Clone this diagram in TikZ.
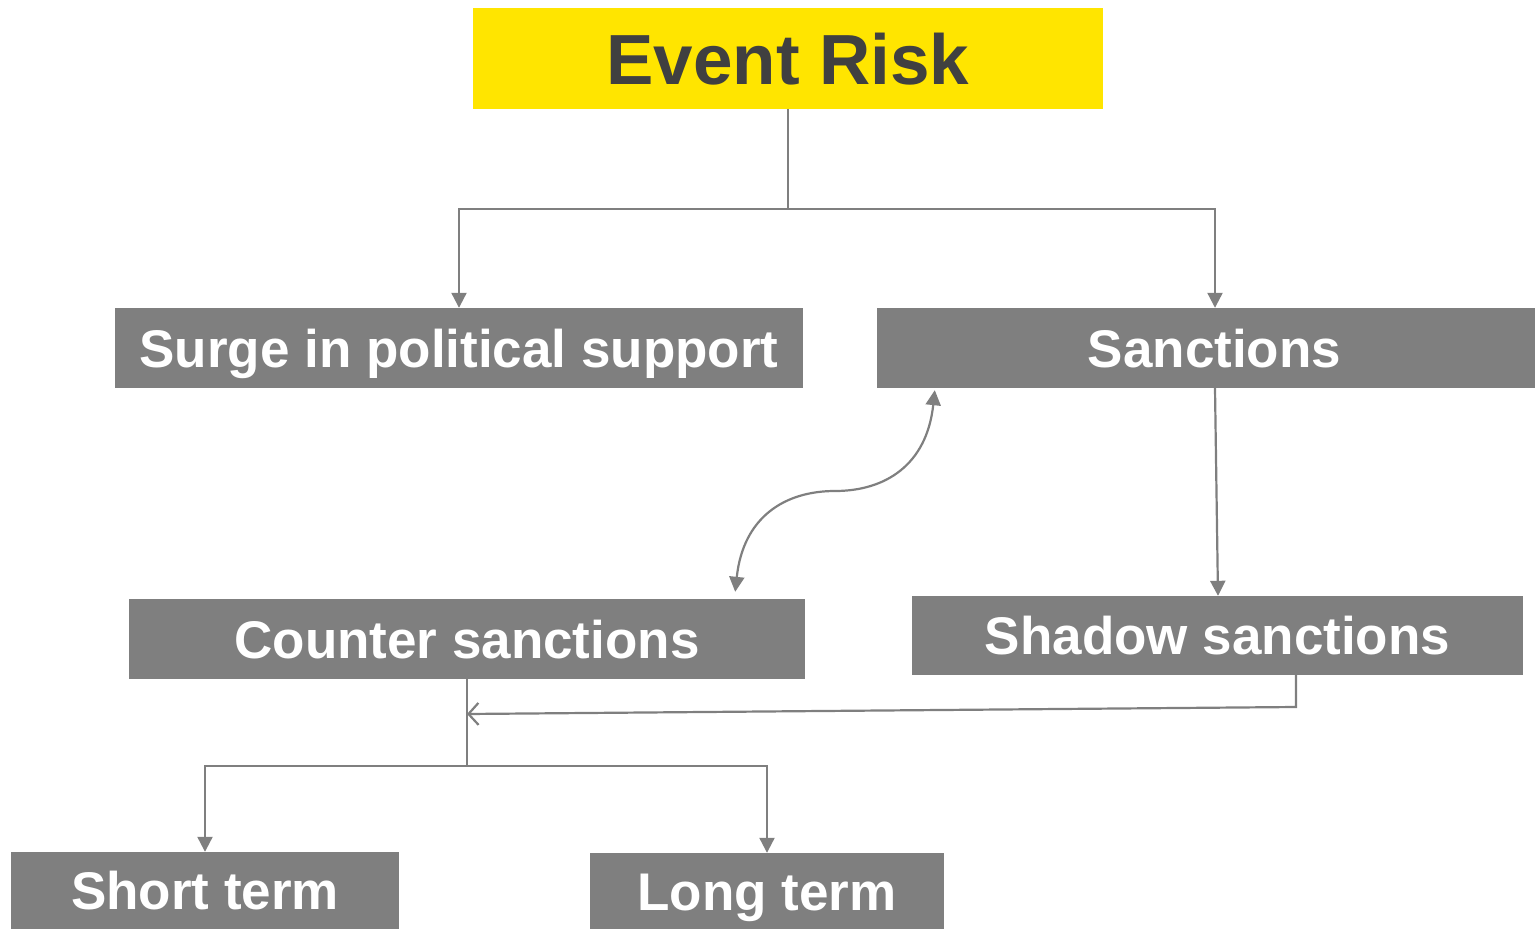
\documentclass[tikz,border=0pt]{standalone}
\usepackage{fontspec}
\setmainfont{Liberation Sans}
\usetikzlibrary{arrows.meta}
\definecolor{boxgray}{HTML}{7F7F7F}
\definecolor{evyellow}{HTML}{FFE500}
\definecolor{darktext}{HTML}{404040}
\tikzset{
  box/.style={fill=boxgray, text=white, inner sep=0pt, font=\fontsize{53}{60}\selectfont\bfseries, text height=38pt, text depth=0pt, anchor=center},
  topbox/.style={box, fill=evyellow, text=darktext, font=\fontsize{71}{80}\selectfont\bfseries, text height=51pt},
  conn/.style={draw=boxgray, line width=2.2pt},
  arr/.style={conn, -{Triangle[length=15pt,width=15pt]}},
  dblarr/.style={conn, {Triangle[length=15pt,width=15pt]}-{Triangle[length=15pt,width=15pt]}},
  openarr/.style={conn, -{Straight Barb[length=10pt,width=22pt,line width=2.2pt]}},
}
\begin{document}
\begin{tikzpicture}[x=1pt,y=-1pt]
\useasboundingbox (0,0) rectangle (1535,929);
\node[topbox, minimum width=630pt, minimum height=101pt] (er) at (788,58.5) {Event Risk};
\node[box, minimum width=688pt, minimum height=80pt] (surge) at (459,348) {Surge in political support};
\node[box, minimum width=658pt, minimum height=80pt] (sanc) at (1206,348) {\hspace*{17pt}Sanctions};
\node[box, minimum width=676pt, minimum height=80pt] (counter) at (467,639) {Counter sanctions};
\node[box, minimum width=611pt, minimum height=79pt] (shadow) at (1217.5,635.5) {Shadow sanctions};
\node[box, minimum width=388pt, minimum height=77pt] (short) at (205,890.5) {Short term};
\node[box, minimum width=354pt, minimum height=76pt] (long) at (767,891) {Long term};

\coordinate (j1) at (788,209);
\coordinate (j2) at (467,766);
\coordinate (c1) at (467,714);
\coordinate (s1) at (1296,707);
\coordinate (mid) at (835,491);

\draw[conn] (er.south) -- (j1);
\draw[arr] (j1) -| (surge.north);
\draw[arr] (j1) -| ([xshift=9pt]sanc.north);
\draw[arr] ([xshift=9pt]sanc.south) -- ([xshift=0.5pt]shadow.north);
\draw[dblarr] ([xshift=58pt,yshift=-2pt]sanc.south west) .. controls +(-8,75) and +(50,0) .. (mid) .. controls +(-50,0) and +(8,-75) .. ([xshift=-70pt,yshift=7pt]counter.north east);
\draw[conn] (counter.south) -- (j2);
\draw[arr] (j2) -| (short.north);
\draw[arr] (j2) -| (long.north);
\draw[openarr] ([xshift=78.5pt]shadow.south) -- (s1) -- (c1);
\end{tikzpicture}
\end{document}
